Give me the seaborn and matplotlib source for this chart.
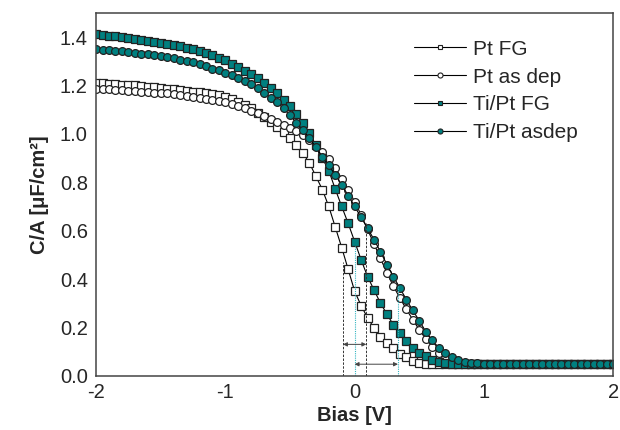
import numpy as np
import pandas as pd
import matplotlib
matplotlib.use("Agg")
import matplotlib.pyplot as plt
from matplotlib.lines import Line2D
from matplotlib.ticker import MultipleLocator, FormatStrFormatter
import seaborn as sns

# bias sweep, -2 V .. 2 V in 0.05 V steps (81 points)
bias = [round(-2 + 0.05 * i, 2) for i in range(81)]

pt_fg = [
    1.212, 1.210, 1.208, 1.206, 1.204, 1.202, 1.200, 1.197, 1.194, 1.192,
    1.190, 1.187, 1.184, 1.181, 1.178, 1.175, 1.172, 1.168, 1.164, 1.160,
    1.152, 1.143, 1.132, 1.120, 1.105, 1.088, 1.070, 1.048, 1.028, 1.008,
    0.985, 0.955, 0.920, 0.880, 0.825, 0.770, 0.700, 0.615, 0.530, 0.440,
    0.350, 0.290, 0.240, 0.198, 0.162, 0.135, 0.113, 0.092, 0.076, 0.063,
    0.055, 0.050, 0.048, 0.047, 0.047, 0.047, 0.047, 0.047, 0.047, 0.047,
    0.047, 0.047, 0.047, 0.047, 0.047, 0.047, 0.047, 0.047, 0.047, 0.047,
    0.047, 0.047, 0.047, 0.047, 0.047, 0.047, 0.047, 0.047, 0.047, 0.047,
    0.047,
]

pt_asdep = [
    1.187, 1.186, 1.184, 1.183, 1.181, 1.179, 1.177, 1.175, 1.173, 1.171,
    1.170, 1.167, 1.164, 1.161, 1.158, 1.154, 1.150, 1.146, 1.141, 1.136,
    1.130, 1.122, 1.114, 1.105, 1.095, 1.085, 1.074, 1.062, 1.050, 1.038,
    1.025, 1.012, 0.997, 0.975, 0.950, 0.925, 0.895, 0.860, 0.815, 0.770,
    0.720, 0.665, 0.605, 0.545, 0.485, 0.425, 0.370, 0.322, 0.275, 0.232,
    0.190, 0.153, 0.120, 0.093, 0.072, 0.058, 0.052, 0.050, 0.049, 0.049,
    0.049, 0.049, 0.049, 0.049, 0.049, 0.049, 0.049, 0.049, 0.049, 0.049,
    0.049, 0.049, 0.049, 0.049, 0.049, 0.049, 0.049, 0.049, 0.049, 0.049,
    0.049,
]

tipt_fg = [
    1.412, 1.409, 1.406, 1.403, 1.400, 1.396, 1.393, 1.389, 1.385, 1.381,
    1.377, 1.373, 1.368, 1.362, 1.356, 1.349, 1.342, 1.334, 1.325, 1.315,
    1.304, 1.290, 1.276, 1.261, 1.246, 1.229, 1.211, 1.190, 1.167, 1.142,
    1.115, 1.082, 1.045, 1.003, 0.953, 0.900, 0.848, 0.772, 0.700, 0.630,
    0.555, 0.480, 0.410, 0.355, 0.300, 0.255, 0.210, 0.175, 0.142, 0.116,
    0.096, 0.080, 0.067, 0.058, 0.053, 0.050, 0.049, 0.049, 0.049, 0.049,
    0.049, 0.049, 0.049, 0.049, 0.049, 0.049, 0.049, 0.049, 0.049, 0.049,
    0.049, 0.049, 0.049, 0.049, 0.049, 0.049, 0.049, 0.049, 0.049, 0.049,
    0.049,
]

tipt_asdep = [
    1.350, 1.348, 1.346, 1.344, 1.341, 1.338, 1.335, 1.332, 1.329, 1.325,
    1.321, 1.316, 1.312, 1.307, 1.301, 1.295, 1.287, 1.279, 1.270, 1.262,
    1.252, 1.242, 1.230, 1.218, 1.205, 1.188, 1.170, 1.150, 1.130, 1.105,
    1.077, 1.045, 1.015, 0.983, 0.945, 0.905, 0.870, 0.830, 0.790, 0.745,
    0.700, 0.655, 0.610, 0.563, 0.512, 0.460, 0.410, 0.363, 0.315, 0.270,
    0.228, 0.183, 0.146, 0.117, 0.093, 0.076, 0.065, 0.058, 0.054, 0.051,
    0.050, 0.050, 0.050, 0.050, 0.050, 0.050, 0.050, 0.050, 0.050, 0.050,
    0.050, 0.050, 0.050, 0.050, 0.050, 0.050, 0.050, 0.050, 0.050, 0.050,
    0.050,
]

labels = ["Pt FG", "Pt as dep", "Ti/Pt FG", "Ti/Pt asdep"]

# guide lines: bias position and the height they reach
black_guides_x = [-0.09, 0.09]
black_guides_top = [0.47, 0.63]
cyan_guides_x = [0.0, 0.335]
cyan_guides_top = [0.54, 0.37]
arrow_upper = (-0.09, 0.09, 0.13)   # from, to, at C/A
arrow_lower = (0.0, 0.335, 0.048)

teal = "#008080"

sns.set_style("white")
plt.rcParams["font.family"] = ["Liberation Sans", "DejaVu Sans"]
plt.rcParams["axes.unicode_minus"] = False

df = pd.DataFrame({
    "bias": bias * 4,
    "ca": pt_fg + pt_asdep + tipt_fg + tipt_asdep,
    "sample": sum([[lab] * len(bias) for lab in labels], []),
})

fig, ax = plt.subplots(figsize=(6.2, 4.3), dpi=100)
fig.subplots_adjust(left=0.155, right=0.989, bottom=0.126, top=0.970)

styles = {
    "Pt FG": dict(marker="s", markerfacecolor="white"),
    "Pt as dep": dict(marker="o", markerfacecolor="white"),
    "Ti/Pt FG": dict(marker="s", markerfacecolor=teal),
    "Ti/Pt asdep": dict(marker="o", markerfacecolor=teal),
}

handles = []
for lab in labels:
    sub = df[df["sample"] == lab]
    st = styles[lab]
    size = 5.2 if st["marker"] == "s" else 5.6
    sns.lineplot(
        data=sub, x="bias", y="ca", ax=ax,
        color="black", linewidth=0.8,
        marker=st["marker"], markerfacecolor=st["markerfacecolor"],
        markeredgecolor="#222222", markeredgewidth=0.9, markersize=size,
    )
    handles.append(Line2D([], [], color="black", linewidth=0.8,
                          marker=st["marker"],
                          markerfacecolor=st["markerfacecolor"],
                          markeredgecolor="#222222", markeredgewidth=0.8,
                          markersize=size * 0.65, label=lab))

ax.vlines(black_guides_x, 0, black_guides_top, colors="#333333",
          linestyles=(0, (2.5, 1.5)), linewidth=0.7)
ax.vlines(cyan_guides_x, 0, cyan_guides_top, colors="#35b5c0",
          linestyles=(0, (1, 1)), linewidth=0.8)
for x0, x1, yy in [arrow_upper, arrow_lower]:
    ax.annotate("", xy=(x1, yy), xytext=(x0, yy),
                arrowprops=dict(arrowstyle="<|-|>", color="#444444",
                                lw=0.7, mutation_scale=6,
                                shrinkA=0, shrinkB=0))

ax.set_xlim(-2, 2)
ax.set_ylim(0, 1.5)
ax.xaxis.set_major_locator(MultipleLocator(1))
ax.xaxis.set_minor_locator(MultipleLocator(1 / 6))
ax.set_yticks(np.arange(0, 1.41, 0.2))
ax.yaxis.set_major_formatter(FormatStrFormatter("%.1f"))
ax.tick_params(axis="both", which="major", direction="in", length=5.5,
               width=1.0, labelsize=14.5, color="#333333", pad=6)
ax.tick_params(axis="x", which="major", pad=5)
ax.tick_params(axis="x", which="minor", direction="in", length=3,
               width=0.9, color="#333333")

for sp in ax.spines.values():
    sp.set_color("#444444")
    sp.set_linewidth(1.1)

ax.set_xlabel("Bias [V]", fontsize=14.5, fontweight="bold", labelpad=3)
ax.set_ylabel("C/A [μF/cm²]", fontsize=14.5, fontweight="bold", labelpad=8)

ax.legend(handles=handles, loc="upper left", bbox_to_anchor=(0.615, 0.926),
          frameon=False, fontsize=15, handlelength=2.5, numpoints=1,
          handletextpad=0.35, labelspacing=0.42, borderaxespad=0,
          borderpad=0)

fig.savefig("out.png", dpi=100)
